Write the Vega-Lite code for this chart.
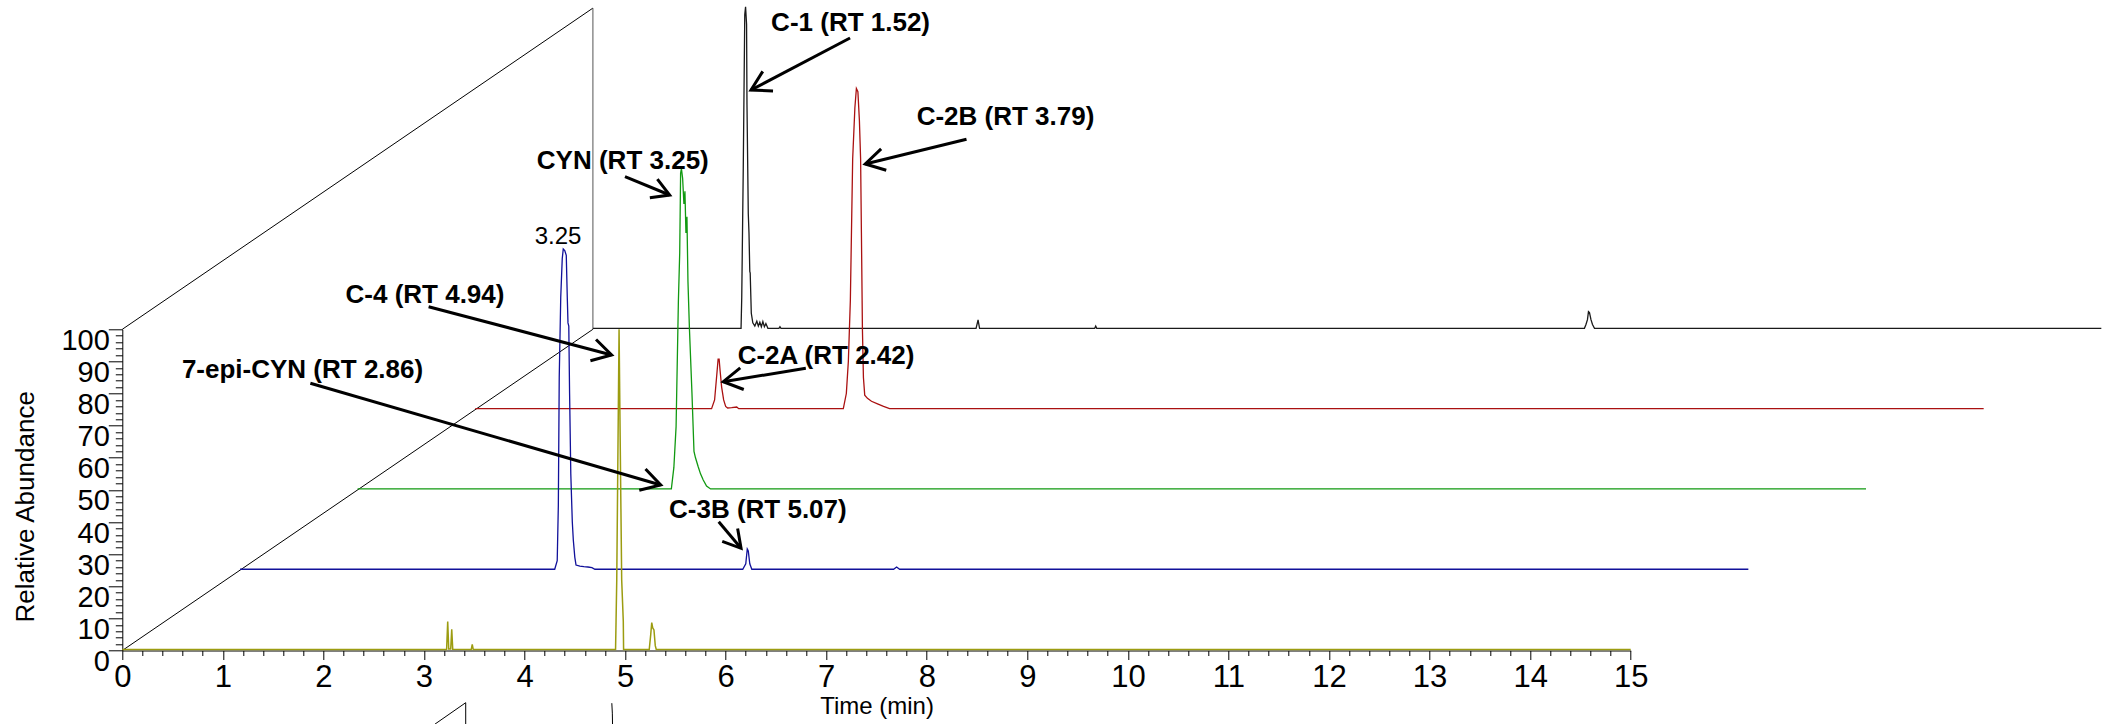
{
  "$schema": "https://vega.github.io/schema/vega-lite/v6.json",
  "width": 1508.4,
  "height": 321.2,
  "autosize": {"type": "none"},
  "padding": {"left": 122.3, "top": 329.3, "right": 473.3, "bottom": 73.5},
  "background": "white",
  "config": {
    "view": {"stroke": null},
    "font": "Liberation Sans, Arial, sans-serif",
    "axis": {"grid": false}
  },
  "datasets": {
    "tr": [
      {"s": "O", "t": 0, "v": 0.3}, {"s": "O", "t": 3.225, "v": 0.3}, {"s": "O", "t": 3.236, "v": 9}, {"s": "O", "t": 3.246, "v": 0.5},
      {"s": "O", "t": 3.266, "v": 0.5}, {"s": "O", "t": 3.276, "v": 6.6}, {"s": "O", "t": 3.286, "v": 0.4}, {"s": "O", "t": 3.47, "v": 0.3},
      {"s": "O", "t": 3.48, "v": 1.9}, {"s": "O", "t": 3.49, "v": 0.3}, {"s": "O", "t": 4.905, "v": 0.3}, {"s": "O", "t": 4.91, "v": 9},
      {"s": "O", "t": 4.917, "v": 22}, {"s": "O", "t": 4.94, "v": 100}, {"s": "O", "t": 4.949, "v": 72}, {"s": "O", "t": 4.966, "v": 22},
      {"s": "O", "t": 4.982, "v": 9}, {"s": "O", "t": 4.985, "v": 0.3}, {"s": "O", "t": 5.24, "v": 0.3}, {"s": "O", "t": 5.255, "v": 5},
      {"s": "O", "t": 5.265, "v": 8.7}, {"s": "O", "t": 5.275, "v": 7}, {"s": "O", "t": 5.287, "v": 6.4}, {"s": "O", "t": 5.3, "v": 1.5},
      {"s": "O", "t": 5.31, "v": 0.3}, {"s": "O", "t": 15, "v": 0.3},

      {"s": "B", "t": 0, "v": 0.3}, {"s": "B", "t": 3.13, "v": 0.3}, {"s": "B", "t": 3.155, "v": 3}, {"s": "B", "t": 3.166, "v": 20},
      {"s": "B", "t": 3.175, "v": 60}, {"s": "B", "t": 3.19, "v": 85}, {"s": "B", "t": 3.205, "v": 97}, {"s": "B", "t": 3.215, "v": 100},
      {"s": "B", "t": 3.23, "v": 99.5}, {"s": "B", "t": 3.245, "v": 98}, {"s": "B", "t": 3.255, "v": 85}, {"s": "B", "t": 3.262, "v": 77},
      {"s": "B", "t": 3.27, "v": 76}, {"s": "B", "t": 3.278, "v": 55}, {"s": "B", "t": 3.29, "v": 30}, {"s": "B", "t": 3.305, "v": 15},
      {"s": "B", "t": 3.315, "v": 9.4}, {"s": "B", "t": 3.33, "v": 4}, {"s": "B", "t": 3.342, "v": 1.6}, {"s": "B", "t": 3.38, "v": 1.3},
      {"s": "B", "t": 3.42, "v": 1.1}, {"s": "B", "t": 3.46, "v": 1.0}, {"s": "B", "t": 3.5, "v": 0.8}, {"s": "B", "t": 3.53, "v": 0.3},
      {"s": "B", "t": 5.0, "v": 0.3}, {"s": "B", "t": 5.03, "v": 2}, {"s": "B", "t": 5.045, "v": 6.6}, {"s": "B", "t": 5.055, "v": 6},
      {"s": "B", "t": 5.07, "v": 2}, {"s": "B", "t": 5.09, "v": 0.3}, {"s": "B", "t": 6.5, "v": 0.3}, {"s": "B", "t": 6.53, "v": 1},
      {"s": "B", "t": 6.56, "v": 0.3}, {"s": "B", "t": 15, "v": 0.3},

      {"s": "G", "t": 0, "v": 0.3}, {"s": "G", "t": 3.12, "v": 0.3}, {"s": "G", "t": 3.145, "v": 7}, {"s": "G", "t": 3.167, "v": 19.7},
      {"s": "G", "t": 3.19, "v": 59}, {"s": "G", "t": 3.203, "v": 73.7}, {"s": "G", "t": 3.212, "v": 98.6}, {"s": "G", "t": 3.22, "v": 100},
      {"s": "G", "t": 3.232, "v": 97}, {"s": "G", "t": 3.245, "v": 89}, {"s": "G", "t": 3.255, "v": 93}, {"s": "G", "t": 3.265, "v": 80},
      {"s": "G", "t": 3.275, "v": 85}, {"s": "G", "t": 3.285, "v": 65}, {"s": "G", "t": 3.3, "v": 50}, {"s": "G", "t": 3.325, "v": 30},
      {"s": "G", "t": 3.345, "v": 12}, {"s": "G", "t": 3.36, "v": 10}, {"s": "G", "t": 3.387, "v": 7.2}, {"s": "G", "t": 3.41, "v": 5},
      {"s": "G", "t": 3.437, "v": 3.1}, {"s": "G", "t": 3.47, "v": 1.2}, {"s": "G", "t": 3.51, "v": 0.3}, {"s": "G", "t": 15, "v": 0.3},

      {"s": "R", "t": 0, "v": 0.3}, {"s": "R", "t": 2.35, "v": 0.3}, {"s": "R", "t": 2.38, "v": 3}, {"s": "R", "t": 2.405, "v": 12},
      {"s": "R", "t": 2.415, "v": 15.7}, {"s": "R", "t": 2.425, "v": 15.7}, {"s": "R", "t": 2.435, "v": 12}, {"s": "R", "t": 2.45, "v": 7},
      {"s": "R", "t": 2.47, "v": 3}, {"s": "R", "t": 2.49, "v": 1}, {"s": "R", "t": 2.51, "v": 0.5}, {"s": "R", "t": 2.55, "v": 0.6},
      {"s": "R", "t": 2.6, "v": 0.8}, {"s": "R", "t": 2.62, "v": 0.3}, {"s": "R", "t": 3.66, "v": 0.3}, {"s": "R", "t": 3.69, "v": 5},
      {"s": "R", "t": 3.71, "v": 15}, {"s": "R", "t": 3.73, "v": 34}, {"s": "R", "t": 3.753, "v": 78}, {"s": "R", "t": 3.775, "v": 94},
      {"s": "R", "t": 3.79, "v": 100}, {"s": "R", "t": 3.805, "v": 99}, {"s": "R", "t": 3.82, "v": 90}, {"s": "R", "t": 3.832, "v": 78},
      {"s": "R", "t": 3.84, "v": 55}, {"s": "R", "t": 3.85, "v": 25}, {"s": "R", "t": 3.86, "v": 10}, {"s": "R", "t": 3.873, "v": 4.5},
      {"s": "R", "t": 3.9, "v": 3.5}, {"s": "R", "t": 3.94, "v": 2.6}, {"s": "R", "t": 4.0, "v": 1.8}, {"s": "R", "t": 4.06, "v": 1},
      {"s": "R", "t": 4.12, "v": 0.3}, {"s": "R", "t": 15, "v": 0.3},

      {"s": "K", "t": 0, "v": 0.3}, {"s": "K", "t": 1.473, "v": 0.3}, {"s": "K", "t": 1.48, "v": 10}, {"s": "K", "t": 1.495, "v": 50},
      {"s": "K", "t": 1.51, "v": 98}, {"s": "K", "t": 1.518, "v": 100.4}, {"s": "K", "t": 1.528, "v": 95}, {"s": "K", "t": 1.532, "v": 70},
      {"s": "K", "t": 1.545, "v": 36}, {"s": "K", "t": 1.552, "v": 30}, {"s": "K", "t": 1.56, "v": 18}, {"s": "K", "t": 1.564, "v": 17.5},
      {"s": "K", "t": 1.575, "v": 5}, {"s": "K", "t": 1.59, "v": 2}, {"s": "K", "t": 1.61, "v": 1}, {"s": "K", "t": 1.63, "v": 2.5},
      {"s": "K", "t": 1.645, "v": 1}, {"s": "K", "t": 1.66, "v": 2.2}, {"s": "K", "t": 1.675, "v": 0.8}, {"s": "K", "t": 1.69, "v": 2.4},
      {"s": "K", "t": 1.705, "v": 0.8}, {"s": "K", "t": 1.72, "v": 1.8}, {"s": "K", "t": 1.74, "v": 0.3}, {"s": "K", "t": 1.85, "v": 0.3},
      {"s": "K", "t": 1.86, "v": 0.8}, {"s": "K", "t": 1.87, "v": 0.3}, {"s": "K", "t": 3.81, "v": 0.3}, {"s": "K", "t": 3.83, "v": 2.9},
      {"s": "K", "t": 3.845, "v": 0.3}, {"s": "K", "t": 4.99, "v": 0.3}, {"s": "K", "t": 5.0, "v": 1}, {"s": "K", "t": 5.01, "v": 0.3},
      {"s": "K", "t": 9.86, "v": 0.3}, {"s": "K", "t": 9.875, "v": 1.5}, {"s": "K", "t": 9.89, "v": 3}, {"s": "K", "t": 9.9, "v": 5.5},
      {"s": "K", "t": 9.91, "v": 5.2}, {"s": "K", "t": 9.925, "v": 3}, {"s": "K", "t": 9.94, "v": 1.5}, {"s": "K", "t": 9.96, "v": 0.3},
      {"s": "K", "t": 15, "v": 0.3}
    ],
    "frame": [
      {"id": "d1", "o": 0, "t": 0, "v": 0}, {"id": "d1", "o": 1, "t": 4.68, "v": 100},
      {"id": "d2", "o": 0, "t": 0, "v": 100}, {"id": "d2", "o": 1, "t": 4.68, "v": 200},
      {"id": "bv", "o": 0, "t": 4.68, "v": 100}, {"id": "bv", "o": 1, "t": 4.68, "v": 200},
      {"id": "x1", "o": 0, "t": 3.11, "v": -22.9}, {"id": "x1", "o": 1, "t": 3.415, "v": -16.25}, {"id": "x1", "o": 2, "t": 3.415, "v": -22.9},
      {"id": "x2", "o": 0, "t": 4.868, "v": -16.4}, {"id": "x2", "o": 1, "t": 4.873, "v": -19.5}, {"id": "x2", "o": 2, "t": 4.875, "v": -22.9}
    ],
    "arrows": [
      {"id": "a1s", "o": 0, "t": 7.237, "v": 190.69}, {"id": "a1s", "o": 1, "t": 6.252, "v": 174.5},
      {"id": "a1h", "o": 0, "t": 6.471, "v": 174.22}, {"id": "a1h", "o": 1, "t": 6.252, "v": 174.5}, {"id": "a1h", "o": 2, "t": 6.369, "v": 180.29},
      {"id": "a2s", "o": 0, "t": 8.395, "v": 159.15}, {"id": "a2s", "o": 1, "t": 7.388, "v": 151.46},
      {"id": "a2h", "o": 0, "t": 7.597, "v": 149.53}, {"id": "a2h", "o": 1, "t": 7.388, "v": 151.46}, {"id": "a2h", "o": 2, "t": 7.546, "v": 156.19},
      {"id": "a3s", "o": 0, "t": 4.999, "v": 147.51}, {"id": "a3s", "o": 1, "t": 5.443, "v": 141.81},
      {"id": "a3h", "o": 0, "t": 5.321, "v": 146.73}, {"id": "a3h", "o": 1, "t": 5.443, "v": 141.81}, {"id": "a3h", "o": 2, "t": 5.246, "v": 140.97},
      {"id": "a4s", "o": 0, "t": 3.046, "v": 107.04}, {"id": "a4s", "o": 1, "t": 4.866, "v": 92.0},
      {"id": "a4h", "o": 0, "t": 4.711, "v": 96.82}, {"id": "a4h", "o": 1, "t": 4.866, "v": 92.0}, {"id": "a4h", "o": 2, "t": 4.655, "v": 90.19},
      {"id": "a5s", "o": 0, "t": 1.87, "v": 83.19}, {"id": "a5s", "o": 1, "t": 5.354, "v": 51.53},
      {"id": "a5h", "o": 0, "t": 5.203, "v": 56.48}, {"id": "a5h", "o": 1, "t": 5.354, "v": 51.53}, {"id": "a5h", "o": 2, "t": 5.141, "v": 49.88},
      {"id": "a6s", "o": 0, "t": 6.797, "v": 87.86}, {"id": "a6s", "o": 1, "t": 5.976, "v": 83.69},
      {"id": "a6h", "o": 0, "t": 6.18, "v": 81.26}, {"id": "a6h", "o": 1, "t": 5.976, "v": 83.69}, {"id": "a6h", "o": 2, "t": 6.145, "v": 88.01},
      {"id": "a7s", "o": 0, "t": 5.931, "v": 40.1}, {"id": "a7s", "o": 1, "t": 6.153, "v": 31.82},
      {"id": "a7h", "o": 0, "t": 6.119, "v": 37.95}, {"id": "a7h", "o": 1, "t": 6.153, "v": 31.82}, {"id": "a7h", "o": 2, "t": 5.966, "v": 33.97}
    ],
    "labels": [
      {"txt": "C-1 (RT 1.52)", "t": 7.242, "v": 195.26},
      {"txt": "C-2B (RT 3.79)", "t": 8.783, "v": 166.1},
      {"txt": "CYN (RT 3.25)", "t": 4.977, "v": 152.4},
      {"txt": "C-4 (RT 4.94)", "t": 3.01, "v": 110.68},
      {"txt": "7-epi-CYN (RT 2.86)", "t": 1.792, "v": 87.33},
      {"txt": "C-2A (RT 2.42)", "t": 6.998, "v": 91.84},
      {"txt": "C-3B (RT 5.07)", "t": 6.32, "v": 43.59}
    ],
    "peaklabels": [
      {"txt": "3.25", "t": 4.333, "v": 128.6}
    ]
  },
  "layer": [
    {
      "data": {"name": "frame"},
      "mark": {"type": "line", "strokeWidth": 1, "interpolate": "linear"},
      "encoding": {
        "x": {"field": "t", "type": "quantitative", "scale": {"domain": [0, 15], "nice": false, "zero": false}, "axis": null},
        "y": {"field": "v", "type": "quantitative", "scale": {"domain": [0, 100], "nice": false, "zero": false}, "axis": null},
        "detail": {"field": "id"},
        "order": {"field": "o"},
        "color": {"condition": {"test": "datum.id === 'bv'", "value": "#555555"}, "value": "#000000"}
      }
    },
    {
      "data": {"name": "tr"},
      "transform": [{"filter": "datum.s === 'K'"}],
      "mark": {"type": "line", "color": "#1a1a1a", "strokeWidth": 1.3},
      "encoding": {
        "x": {"field": "t", "type": "quantitative", "scale": {"domain": [-4.68, 10.32], "nice": false, "zero": false}, "axis": null},
        "y": {"field": "v", "type": "quantitative", "scale": {"domain": [-100, 0], "nice": false, "zero": false}, "axis": null}
      }
    },
    {
      "data": {"name": "tr"},
      "transform": [{"filter": "datum.s === 'R'"}],
      "mark": {"type": "line", "color": "#aa1111", "strokeWidth": 1.3},
      "encoding": {
        "x": {"field": "t", "type": "quantitative", "scale": {"domain": [-3.51, 11.49], "nice": false, "zero": false}, "axis": null},
        "y": {"field": "v", "type": "quantitative", "scale": {"domain": [-75, 25], "nice": false, "zero": false}, "axis": null}
      }
    },
    {
      "data": {"name": "tr"},
      "transform": [{"filter": "datum.s === 'G'"}],
      "mark": {"type": "line", "color": "#119911", "strokeWidth": 1.3},
      "encoding": {
        "x": {"field": "t", "type": "quantitative", "scale": {"domain": [-2.34, 12.66], "nice": false, "zero": false}, "axis": null},
        "y": {"field": "v", "type": "quantitative", "scale": {"domain": [-50, 50], "nice": false, "zero": false}, "axis": null}
      }
    },
    {
      "data": {"name": "tr"},
      "transform": [{"filter": "datum.s === 'B'"}],
      "mark": {"type": "line", "color": "#11119a", "strokeWidth": 1.3},
      "encoding": {
        "x": {"field": "t", "type": "quantitative", "scale": {"domain": [-1.17, 13.83], "nice": false, "zero": false}, "axis": null},
        "y": {"field": "v", "type": "quantitative", "scale": {"domain": [-25, 75], "nice": false, "zero": false}, "axis": null}
      }
    },
    {
      "data": {"name": "tr"},
      "transform": [{"filter": "datum.s === 'O'"}],
      "mark": {"type": "line", "color": "#9c9c10", "strokeWidth": 1.5},
      "encoding": {
        "x": {
          "field": "t", "type": "quantitative",
          "scale": {"domain": [0, 15], "nice": false, "zero": false},
          "axis": {
            "orient": "bottom",
            "values": [0,0.2,0.4,0.6,0.8,1,1.2,1.4,1.6,1.8,2,2.2,2.4,2.6,2.8,3,3.2,3.4,3.6,3.8,4,4.2,4.4,4.6,4.8,5,5.2,5.4,5.6,5.8,6,6.2,6.4,6.6,6.8,7,7.2,7.4,7.6,7.8,8,8.2,8.4,8.6,8.8,9,9.2,9.4,9.6,9.8,10,10.2,10.4,10.6,10.8,11,11.2,11.4,11.6,11.8,12,12.2,12.4,12.6,12.8,13,13.2,13.4,13.6,13.8,14,14.2,14.4,14.6,14.8,15],
            "labelExpr": "datum.value % 1 === 0 ? format(datum.value, 'd') : ''",
            "tickSize": {"condition": {"test": "datum.value % 1 === 0", "value": 9}, "value": 5},
            "tickColor": "#000000",
            "domainColor": "#000000",
            "labelFontSize": 31,
            "labelColor": "#000000",
            "labelPadding": 3,
            "labelOverlap": false,
            "labelFlush": false,
            "labelBound": false,
            "title": "Time (min)",
            "titleFontSize": 24,
            "titleFontWeight": "normal",
            "titleColor": "#000000",
            "titlePadding": 2
          }
        },
        "y": {
          "field": "v", "type": "quantitative",
          "scale": {"domain": [0, 100], "nice": false, "zero": false},
          "axis": {
            "orient": "left",
            "values": [0,2,4,6,8,10,12,14,16,18,20,22,24,26,28,30,32,34,36,38,40,42,44,46,48,50,52,54,56,58,60,62,64,66,68,70,72,74,76,78,80,82,84,86,88,90,92,94,96,98,100],
            "labelExpr": "datum.value % 10 === 0 ? format(datum.value, 'd') : ''",
            "tickSize": {"condition": {"test": "datum.value % 10 === 0", "value": 14}, "value": 7},
            "tickColor": "#000000",
            "domainColor": "#000000",
            "labelFontSize": 29,
            "labelColor": "#000000",
            "labelPadding": -1,
            "labelBaseline": "middle",
            "labelOffset": 11,
            "labelOverlap": false,
            "labelFlush": false,
            "labelBound": false,
            "title": "Relative Abundance",
            "titleFontSize": 26,
            "titleFontWeight": "normal",
            "titleColor": "#000000",
            "titleBaseline": "middle",
            "titleX": -97,
            "titleY": 177
          }
        }
      }
    },
    {
      "data": {"name": "arrows"},
      "mark": {"type": "line", "color": "#000000", "strokeWidth": 3, "strokeJoin": "miter", "strokeCap": "butt"},
      "encoding": {
        "x": {"field": "t", "type": "quantitative", "scale": {"domain": [0, 15], "nice": false, "zero": false}, "axis": null},
        "y": {"field": "v", "type": "quantitative", "scale": {"domain": [0, 100], "nice": false, "zero": false}, "axis": null},
        "detail": {"field": "id"},
        "order": {"field": "o"}
      }
    },
    {
      "data": {"name": "labels"},
      "mark": {"type": "text", "fontSize": 26, "fontWeight": "bold", "color": "#000000", "align": "center", "baseline": "middle"},
      "encoding": {
        "x": {"field": "t", "type": "quantitative", "scale": {"domain": [0, 15], "nice": false, "zero": false}, "axis": null},
        "y": {"field": "v", "type": "quantitative", "scale": {"domain": [0, 100], "nice": false, "zero": false}, "axis": null},
        "text": {"field": "txt"}
      }
    },
    {
      "data": {"name": "peaklabels"},
      "mark": {"type": "text", "fontSize": 24, "color": "#000000", "align": "center", "baseline": "middle"},
      "encoding": {
        "x": {"field": "t", "type": "quantitative", "scale": {"domain": [0, 15], "nice": false, "zero": false}, "axis": null},
        "y": {"field": "v", "type": "quantitative", "scale": {"domain": [0, 100], "nice": false, "zero": false}, "axis": null},
        "text": {"field": "txt"}
      }
    }
  ],
  "resolve": {"scale": {"x": "independent", "y": "independent"}}
}
